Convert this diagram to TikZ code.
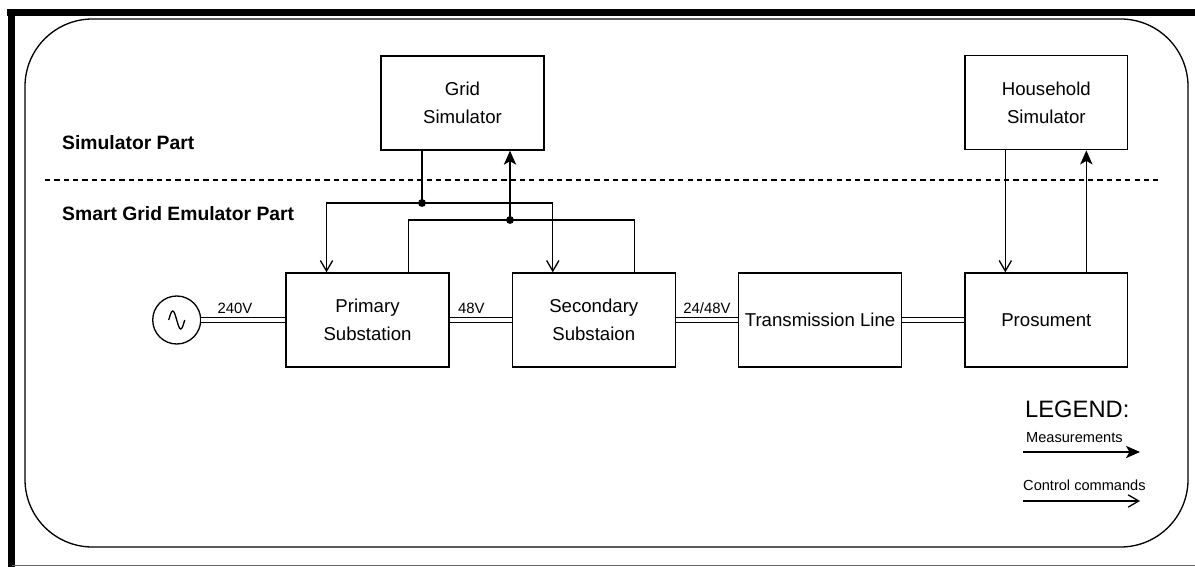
\documentclass[tikz,border=0pt]{standalone}
\usepackage{fontspec}
\setmainfont{Liberation Sans}
\usetikzlibrary{arrows.meta,positioning}

\begin{document}
\begin{tikzpicture}[
    x=0.02cm, y=-0.02cm,
    node distance=1.24cm,
    block/.style={rectangle, draw, line width=0.75pt, inner sep=1pt, minimum width=3.26cm, minimum height=1.88cm, align=center, font=\fontsize{10.6}{16}\selectfont},
    bus/.style={double, double distance=2pt, line width=0.75pt},
    wire/.style={line width=0.75pt},
    ctrl/.style={wire, -{Straight Barb[length=6pt,width=7pt]}},
    meas/.style={wire, -{Stealth[length=8pt,width=7pt,inset=2pt]}},
    partlabel/.style={anchor=west, font=\fontsize{11}{13}\selectfont\bfseries},
    buslabel/.style={above, font=\fontsize{8.5}{10}\selectfont},
    junction/.style={circle, fill, inner sep=0pt, minimum size=4.5pt}
]

\useasboundingbox (0,0) rectangle (1195,567);

\draw[line width=4pt] (7,12.5) -- (1195,12.5);
\draw[line width=4pt] (11.5,9) -- (11.5,567);
\draw[line width=0.6pt, black!60] (11.5,565.5) -- (1195,565.5);
\draw[line width=0.75pt, rounded corners=1.35cm] (25,19) rectangle (1188,547);
\draw[line width=0.75pt, dash pattern=on 3pt off 2.3pt] (45,180) -- (1158,180);

\node[partlabel] (simpart) at (56,143) {Simulator Part};
\node[partlabel] (emupart) at (56,214) {Smart Grid Emulator Part};

\node[block] (primary) at (367.5,320) {Primary\\Substation};
\node[block, right=of primary] (secondary) {Secondary\\Substaion};
\node[block, right=of secondary] (transline) {Transmission Line};
\node[block, right=of transline] (prosument) {Prosument};
\node[block] (gridsim) at (462.5,103) {Grid\\Simulator};
\node[block, above=2.44cm of prosument] (housesim) {Household\\Simulator};
\node[circle, draw, wire, minimum size=0.96cm, left=1.68cm of primary] (source) {};

\draw[wire] ([xshift=-0.16cm]source.center) sin ++(4,-9) cos ++(4,9) sin ++(4,9) cos ++(4,-9);

\draw[bus] (source) -- node[buslabel, pos=0.4] {240V} (primary);
\draw[bus] (primary) -- node[buslabel, pos=0.35] {48V} (secondary);
\draw[bus] (secondary) -- node[buslabel] {24/48V} (transline);
\draw[bus] (transline) -- (prosument);

\coordinate (ctrlsplit) at (422,203);
\coordinate (meassplit) at (510,220);

\draw[wire] (gridsim.south -| ctrlsplit) -- (ctrlsplit);
\draw[ctrl] (ctrlsplit) -| ([xshift=-0.82cm]primary.north);
\draw[ctrl] (ctrlsplit) -| ([xshift=-0.82cm]secondary.north);
\draw[wire] ([xshift=0.82cm]primary.north) |- (meassplit);
\draw[wire] ([xshift=0.82cm]secondary.north) |- (meassplit);
\draw[meas] (meassplit) -- (meassplit |- gridsim.south);
\node[junction] at (ctrlsplit) {};
\node[junction] at (meassplit) {};

\draw[ctrl] ([xshift=-0.82cm]housesim.south) -- ([xshift=-0.82cm]prosument.north);
\draw[meas] ([xshift=0.8cm]prosument.north) -- ([xshift=0.8cm]housesim.south);

\node[anchor=west, font=\fontsize{13.5}{15}\selectfont] (legend) at (1019,409) {LEGEND:};
\node[anchor=west, font=\fontsize{8.3}{10}\selectfont] (measlabel) at (1020,438) {Measurements};
\node[anchor=west, font=\fontsize{8.3}{10}\selectfont] (ctrllabel) at (1017,485) {Control commands};
\coordinate (measfrom) at (1023,452);
\coordinate (measto) at (1140,452);
\coordinate (ctrlfrom) at (1023,501);
\coordinate (ctrlto) at (1140,501);
\draw[meas] (measfrom) -- (measto);
\draw[ctrl] (ctrlfrom) -- (ctrlto);

\end{tikzpicture}
\end{document}
